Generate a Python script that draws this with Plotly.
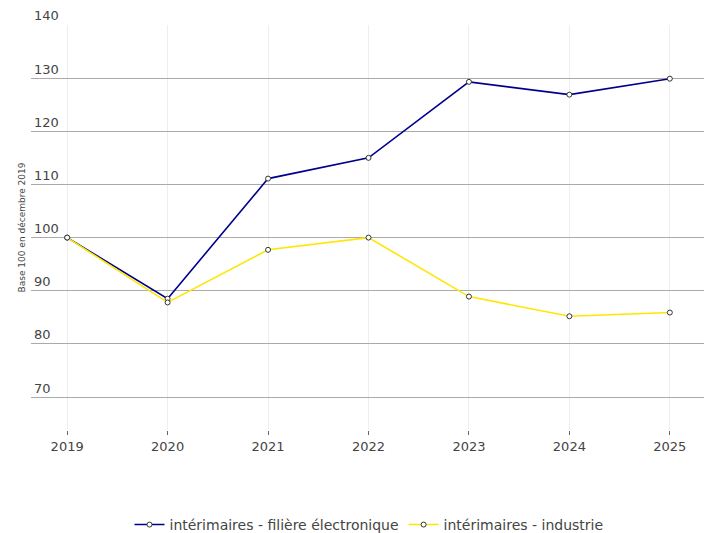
import plotly.graph_objects as go

years = [2019, 2020, 2021, 2022, 2023, 2024, 2025]
electronique = [100, 88.5, 111.1, 115.0, 129.3, 126.9, 129.9]
industrie = [100, 87.8, 97.7, 100.0, 88.9, 85.2, 85.9]
y_ticks = [70, 80, 90, 100, 110, 120, 130, 140]

fig = go.Figure()
fig.add_trace(go.Scatter(
    x=years, y=electronique, mode="lines+markers",
    name="intérimaires - filière électronique",
    line=dict(color="#00008B", width=1.6),
    marker=dict(size=5, color="white", line=dict(color="#333333", width=1)),
))
fig.add_trace(go.Scatter(
    x=years, y=industrie, mode="lines+markers",
    name="intérimaires - industrie",
    line=dict(color="#FFE600", width=1.6),
    marker=dict(size=5, color="white", line=dict(color="#333333", width=1)),
))

fig.update_layout(
    width=704, height=525,
    margin=dict(l=23, r=5, t=17, b=103, autoexpand=False),
    paper_bgcolor="white", plot_bgcolor="white",
    font=dict(family="DejaVu Sans, Verdana, sans-serif", color="#444444", size=13),
    showlegend=True,
    legend=dict(orientation="h", x=0.5, xanchor="center", xref="paper",
                y=-0.274, yanchor="bottom", yref="paper",
                font=dict(size=14, color="#444444")),
    xaxis=dict(
        range=[2018.64, 2025.37], tickvals=years, ticktext=[str(y) for y in years],
        showgrid=True, gridcolor="#eeeeee", gridwidth=1,
        ticks="outside", ticklen=4, tickcolor="#666666",
        ticklabelstandoff=0,
        showline=False, zeroline=False, tickfont=dict(size=13),
        automargin=False,
    ),
    yaxis=dict(
        range=[63.8, 140], tickvals=y_ticks,
        ticklabelposition="inside top", ticklabeloverflow="allow",
        showgrid=True, gridcolor="#aaaaaa", gridwidth=1,
        showline=False, zeroline=False, tickfont=dict(size=13),
        automargin=False,
        title=dict(text="Base 100 en décembre 2019", font=dict(size=9, color="#444444"), standoff=6),
    ),
)

fig.write_html("out.html")
